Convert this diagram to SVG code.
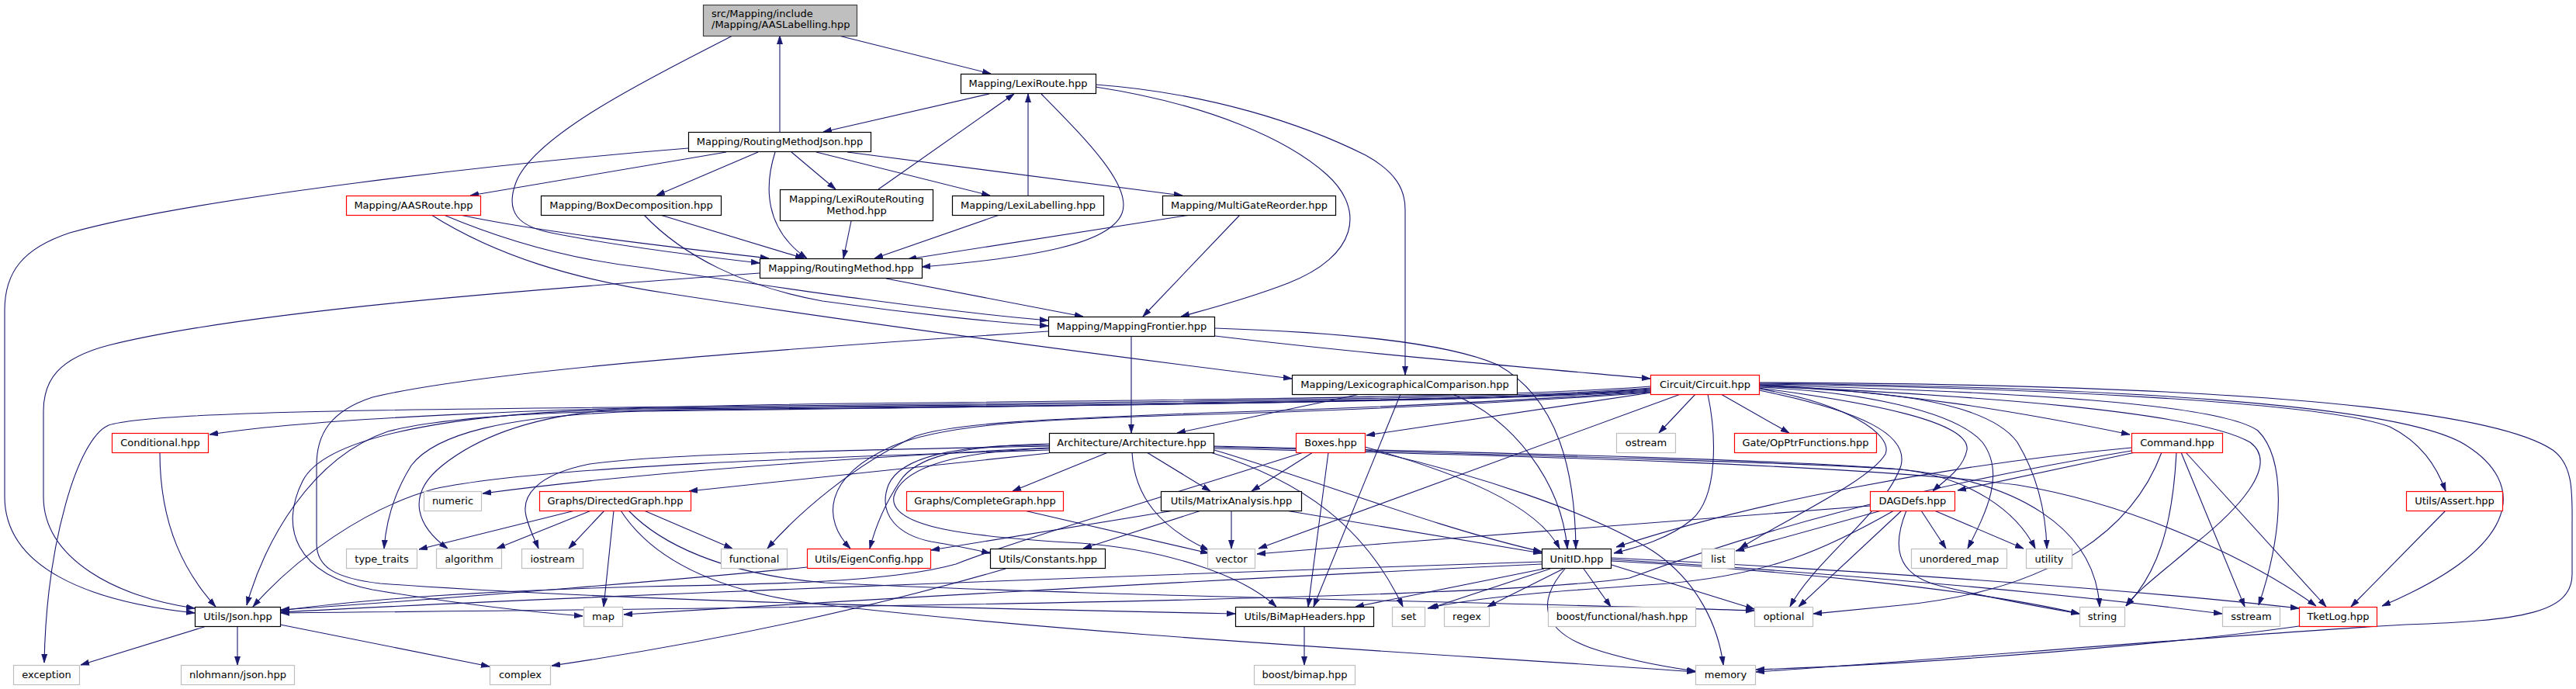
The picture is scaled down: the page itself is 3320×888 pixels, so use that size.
<svg xmlns="http://www.w3.org/2000/svg" width="3320" height="888" viewBox="0 0 3320 888">
<defs>
<marker id="a" viewBox="0 0 11 8" markerWidth="11" markerHeight="8" refX="11" refY="4" orient="auto" markerUnits="userSpaceOnUse"><path d="M0,0.5 L11,4 L0,7.5 z" fill="#191970" stroke="#191970" stroke-width="0.8"/></marker>
<style>
.e{fill:none;stroke:#191970;stroke-width:1.1;marker-end:url(#a)}
.n{fill:#ffffff;stroke:#000000;stroke-width:1.2}
.r{fill:#ffffff;stroke:#ff0000;stroke-width:1.2}
.g{fill:#ffffff;stroke:#bfbfbf;stroke-width:1.2}
.root{fill:#bfbfbf;stroke:#404040;stroke-width:1.2}
text{font-family:"DejaVu Sans","Liberation Sans",sans-serif;font-size:13px;fill:#000000;text-anchor:middle}
text.l{text-anchor:start}
</style>
</defs>
<rect width="3320" height="888" fill="#ffffff"/>
<g id="connectors">
<path class="e" d="M1081,46 L1277,95"/>
<path class="e" d="M944,46 C860,90 690,170 665,235 C650,275 670,292 710,300 C800,318 900,330 979,339"/>
<path class="e" d="M1005,170 L1005,46"/>
<path class="e" d="M887,191 C650,210 250,255 90,300 C30,320 6,350 6,400 L6,640 C6,730 110,775 251,790"/>
<path class="e" d="M936,196 L606,252"/>
<path class="e" d="M977,196 L846,252"/>
<path class="e" d="M999,196 C985,240 985,295 1040,333"/>
<path class="e" d="M1020,196 L1077,244"/>
<path class="e" d="M1052,196 L1276,252"/>
<path class="e" d="M1092,196 L1524,252"/>
<path class="e" d="M1275,121 L1061,170"/>
<path class="e" d="M1342,121 C1400,180 1460,240 1446,275 C1430,315 1330,332 1188,344"/>
<path class="e" d="M1412,112 C1560,135 1660,180 1710,225 C1760,270 1750,330 1660,365 C1600,388 1550,400 1522,408"/>
<path class="e" d="M1412,109 C1560,120 1680,160 1760,200 C1800,222 1811,245 1811,270 L1811,483"/>
<path class="e" d="M1132,244 L1307,121"/>
<path class="e" d="M1097,285 L1087,333"/>
<path class="e" d="M1325,252 L1325,121"/>
<path class="e" d="M1288,277 L1127,333"/>
<path class="e" d="M1534,277 L1170,334"/>
<path class="e" d="M1598,277 L1473,408"/>
<path class="e" d="M593,277 C700,300 880,320 991,333"/>
<path class="e" d="M572,277 C650,310 740,335 830,345 C1000,370 1200,400 1351,413"/>
<path class="e" d="M556,277 C640,330 740,360 860,378 C1100,415 1400,455 1665,488"/>
<path class="e" d="M851,277 L1036,333"/>
<path class="e" d="M830,277 C880,330 960,370 1060,388 C1180,405 1290,416 1351,420"/>
<path class="e" d="M1142,359 L1396,408"/>
<path class="e" d="M979,352 C700,372 320,400 140,445 C75,462 56,490 56,530 L56,640 C56,720 150,770 251,784"/>
<path class="e" d="M1458,434 L1458,558"/>
<path class="e" d="M1566,433 C1750,455 1950,472 2127,488"/>
<path class="e" d="M1566,423 C1720,428 1860,440 1930,470 C2010,515 2030,610 2031,707"/>
<path class="e" d="M1351,427 C1000,450 620,478 480,512 C425,530 408,560 408,600 L408,700 C408,730 430,745 490,752 C800,775 1300,785 1592,791"/>
<path class="e" d="M1753,508 L1517,558"/>
<path class="e" d="M1872,508 C1950,540 2012,620 2020,707"/>
<path class="e" d="M1805,508 L1693,782"/>
<path class="e" d="M2127,498 C1950,512 1500,516 1100,520 C700,525 400,540 270,560"/>
<path class="e" d="M2127,500 C1950,514 1500,518 1100,522 C600,527 200,528 140,548 C100,565 60,700 57,854"/>
<path class="e" d="M2127,501 C1950,516 1500,522 1100,526 C800,528 600,530 500,556 C400,590 340,700 318,780"/>
<path class="e" d="M2127,502 C1900,518 1300,524 830,530 C650,535 560,560 530,600 C505,640 497,680 495,707"/>
<path class="e" d="M2127,503 C1900,519 1200,522 830,526 C700,530 620,560 570,600 C520,640 540,680 577,707"/>
<path class="e" d="M2127,504 C1900,520 1200,524 830,527 C600,530 420,560 390,620 C360,680 380,740 480,760 C600,780 700,790 751,794"/>
<path class="e" d="M2127,505 C1900,520 1700,528 1560,532 C1350,540 1230,545 1180,562 C1100,600 1030,660 989,707"/>
<path class="e" d="M2127,506 C1900,522 1700,530 1560,534 C1350,540 1220,545 1150,575 C1060,615 1060,670 1096,707"/>
<path class="e" d="M2128,506 L1761,561"/>
<path class="e" d="M2185,508 L2138,558"/>
<path class="e" d="M2218,508 L2306,558"/>
<path class="e" d="M2201,508 C2212,560 2215,640 2180,670 C2150,695 2110,705 2080,713"/>
<path class="e" d="M2166,508 L1622,707"/>
<path class="e" d="M2267,501 C2380,520 2440,560 2430,585 C2410,620 2300,670 2242,707"/>
<path class="e" d="M2267,503 C2400,530 2460,560 2450,600 C2430,660 2340,720 2307,782"/>
<path class="e" d="M2267,500 C2420,520 2540,545 2535,580 C2530,605 2505,620 2491,633"/>
<path class="e" d="M2267,499 C2400,505 2520,530 2555,570 C2585,610 2560,660 2536,707"/>
<path class="e" d="M2267,498 C2420,503 2560,515 2600,570 C2630,620 2637,670 2638,707"/>
<path class="e" d="M2267,496 C2450,505 2600,530 2745,560"/>
<path class="e" d="M2267,497 C2550,510 2830,530 2900,570 C2940,600 2880,660 2830,700 C2790,735 2755,760 2740,781"/>
<path class="e" d="M2267,496 C2600,505 2860,520 2910,555 C2945,590 2945,680 2911,780"/>
<path class="e" d="M2267,495 C2650,500 3000,520 3080,550 C3120,570 3140,600 3152,633"/>
<path class="e" d="M2267,494 C2700,498 3100,520 3180,575 C3250,620 3260,700 3070,781"/>
<path class="e" d="M2267,493 C2800,495 3200,520 3290,580 C3318,600 3315,640 3315,680 L3315,740 C3315,790 3250,800 3100,805 C2850,820 2500,850 2263,866"/>
<path class="e" d="M1428,583 L1305,633"/>
<path class="e" d="M1478,583 L1560,633"/>
<path class="e" d="M1459,583 C1462,640 1495,680 1558,709"/>
<path class="e" d="M1352,584 L888,633"/>
<path class="e" d="M1352,577 C1100,590 830,608 622,636"/>
<path class="e" d="M1352,575 C1100,580 850,585 760,598 C690,612 672,640 678,665 C683,685 690,697 694,707"/>
<path class="e" d="M1352,580 C1100,588 700,600 560,630 C470,655 380,720 326,782"/>
<path class="e" d="M1352,572 C1230,575 1180,590 1160,620 C1140,650 1128,680 1121,707"/>
<path class="e" d="M1352,574 C1230,572 1160,590 1145,625 C1130,665 1160,690 1200,698 C1230,703 1255,708 1276,713"/>
<path class="e" d="M1352,578 C1210,582 1160,610 1152,640 C1145,680 1250,692 1393,700 C1500,708 1600,740 1645,782"/>
<path class="e" d="M1565,580 C1700,620 1850,680 1987,711"/>
<path class="e" d="M1560,583 C1680,620 1760,680 1808,782"/>
<path class="e" d="M1565,576 C1900,585 2300,595 2450,605 C2600,620 2700,680 2706,782"/>
<path class="e" d="M1565,575 C1900,583 2300,592 2450,605 C2540,615 2600,660 2623,707"/>
<path class="e" d="M1565,578 C2000,588 2400,600 2600,625 C2750,650 2900,720 2985,781"/>
<path class="e" d="M1692,583 L1613,633"/>
<path class="e" d="M1712,583 L1686,782"/>
<path class="e" d="M1759,576 C1880,610 1980,650 2010,707"/>
<path class="e" d="M1759,579 C1900,610 2050,660 2130,710 C2190,750 2215,810 2221,857"/>
<path class="e" d="M1680,583 C1500,640 1300,700 1232,727 C1150,750 1000,753 830,756 C600,762 450,775 362,787"/>
<path class="e" d="M1587,658 L1587,707"/>
<path class="e" d="M1513,658 L1200,709"/>
<path class="e" d="M1548,658 L1396,707"/>
<path class="e" d="M1657,658 L1987,713"/>
<path class="e" d="M1320,658 L1558,713"/>
<path class="e" d="M741,658 L540,708"/>
<path class="e" d="M762,658 L640,707"/>
<path class="e" d="M779,658 L733,707"/>
<path class="e" d="M791,658 L778,782"/>
<path class="e" d="M830,658 L944,707"/>
<path class="e" d="M810,658 C850,700 930,740 1063,751 C1400,768 1900,775 2261,787"/>
<path class="e" d="M800,658 C840,720 920,760 1042,777 C1400,820 1900,845 2185,866"/>
<path class="e" d="M1990,733 L1747,782"/>
<path class="e" d="M1998,733 L1843,784"/>
<path class="e" d="M2015,733 L1917,782"/>
<path class="e" d="M2041,733 L2076,782"/>
<path class="e" d="M2077,728 L2261,785"/>
<path class="e" d="M2017,733 C1985,770 1980,810 2050,835 C2100,852 2150,860 2185,865"/>
<path class="e" d="M2077,723 C2300,735 2550,760 2680,791"/>
<path class="e" d="M2077,721 C2400,740 2700,770 2864,791"/>
<path class="e" d="M2077,719 C2400,735 2750,760 2963,784"/>
<path class="e" d="M1987,724 C1500,740 700,770 362,789"/>
<path class="e" d="M1987,727 C1500,750 1000,780 804,792"/>
<path class="e" d="M2410,652 C2200,670 1900,690 1620,714"/>
<path class="e" d="M2425,658 L2237,710"/>
<path class="e" d="M2441,658 C2350,710 2280,740 2150,752 C2000,762 1900,770 1840,784"/>
<path class="e" d="M2451,658 L2318,782"/>
<path class="e" d="M2476,658 L2508,707"/>
<path class="e" d="M2493,658 L2608,707"/>
<path class="e" d="M2457,658 C2440,700 2440,740 2500,755 C2570,772 2640,784 2680,791"/>
<path class="e" d="M2752,583 L2523,632"/>
<path class="e" d="M2747,577 C2500,600 2250,650 2083,705"/>
<path class="e" d="M2747,581 C2450,630 2250,690 2100,745 C1900,775 900,785 362,790"/>
<path class="e" d="M2786,583 C2750,680 2650,760 2450,780 C2400,785 2370,788 2337,791"/>
<path class="e" d="M2805,583 C2800,680 2780,740 2740,781"/>
<path class="e" d="M2811,583 L2893,782"/>
<path class="e" d="M2817,583 L2998,782"/>
<path class="e" d="M3152,658 L3030,782"/>
<path class="e" d="M2963,807 C2800,830 2500,855 2263,863"/>
<path class="e" d="M1040,731 C900,745 600,770 362,786"/>
<path class="e" d="M1296,733 C1100,790 900,830 711,858"/>
<path class="e" d="M206,583 C206,680 240,740 278,782"/>
<path class="e" d="M266,807 L104,857"/>
<path class="e" d="M306,807 L306,857"/>
<path class="e" d="M361,805 L631,859"/>
<path class="e" d="M1681,807 L1681,857"/>
</g>
<g id="node-root"><rect class="root" x="906.5" y="6.5" width="198" height="40"/><text class="l" x="917" y="21.5">src/Mapping/include</text><text class="l" x="917" y="36">/Mapping/AASLabelling.hpp</text></g>
<g id="node-lexiroute"><rect class="n" x="1238.5" y="95.5" width="174" height="25"/><text x="1325" y="112">Mapping/LexiRoute.hpp</text></g>
<g id="node-routingmethodjson"><rect class="n" x="887.5" y="170.5" width="235" height="25"/><text x="1005" y="187">Mapping/RoutingMethodJson.hpp</text></g>
<g id="node-aasroute"><rect class="r" x="446.5" y="252.5" width="173" height="25"/><text x="533" y="269">Mapping/AASRoute.hpp</text></g>
<g id="node-boxdecomposition"><rect class="n" x="697.5" y="252.5" width="232" height="25"/><text x="813.5" y="269">Mapping/BoxDecomposition.hpp</text></g>
<g id="node-lexirouteroutingmethod"><rect class="n" x="1005.5" y="244.5" width="197" height="40"/><text x="1104" y="261">Mapping/LexiRouteRouting</text><text x="1104" y="275.5">Method.hpp</text></g>
<g id="node-lexilabelling"><rect class="n" x="1227.5" y="252.5" width="195" height="25"/><text x="1325" y="269">Mapping/LexiLabelling.hpp</text></g>
<g id="node-multigatereorder"><rect class="n" x="1498.5" y="252.5" width="223" height="25"/><text x="1610" y="269">Mapping/MultiGateReorder.hpp</text></g>
<g id="node-routingmethod"><rect class="n" x="979.5" y="333.5" width="209" height="25"/><text x="1084" y="350">Mapping/RoutingMethod.hpp</text></g>
<g id="node-mappingfrontier"><rect class="n" x="1351.5" y="408.5" width="214" height="25"/><text x="1458.5" y="425">Mapping/MappingFrontier.hpp</text></g>
<g id="node-lexcomp"><rect class="n" x="1665.5" y="483.5" width="290" height="25"/><text x="1810.5" y="500">Mapping/LexicographicalComparison.hpp</text></g>
<g id="node-circuit"><rect class="r" x="2127.5" y="483.5" width="140" height="25"/><text x="2197.5" y="500">Circuit/Circuit.hpp</text></g>
<g id="node-conditional"><rect class="r" x="144.5" y="558.5" width="124" height="25"/><text x="206.5" y="575">Conditional.hpp</text></g>
<g id="node-architecture"><rect class="n" x="1352.5" y="558.5" width="212" height="25"/><text x="1458.5" y="575">Architecture/Architecture.hpp</text></g>
<g id="node-boxes"><rect class="r" x="1670.5" y="558.5" width="89" height="25"/><text x="1715" y="575">Boxes.hpp</text></g>
<g id="node-ostream"><rect class="g" x="2083.5" y="558.5" width="76" height="25"/><text x="2121.5" y="575">ostream</text></g>
<g id="node-opptrfunctions"><rect class="r" x="2235.5" y="558.5" width="183" height="25"/><text x="2327" y="575">Gate/OpPtrFunctions.hpp</text></g>
<g id="node-command"><rect class="r" x="2747.5" y="558.5" width="117" height="25"/><text x="2806" y="575">Command.hpp</text></g>
<g id="node-numeric"><rect class="g" x="546.5" y="633.5" width="74" height="25"/><text x="583.5" y="650">numeric</text></g>
<g id="node-directedgraph"><rect class="r" x="695.5" y="633.5" width="195" height="25"/><text x="793" y="650">Graphs/DirectedGraph.hpp</text></g>
<g id="node-completegraph"><rect class="r" x="1168.5" y="633.5" width="202" height="25"/><text x="1269.5" y="650">Graphs/CompleteGraph.hpp</text></g>
<g id="node-matrixanalysis"><rect class="n" x="1496.5" y="633.5" width="181" height="25"/><text x="1587" y="650">Utils/MatrixAnalysis.hpp</text></g>
<g id="node-dagdefs"><rect class="r" x="2410.5" y="633.5" width="109" height="25"/><text x="2465" y="650">DAGDefs.hpp</text></g>
<g id="node-assert"><rect class="r" x="3101.5" y="633.5" width="124" height="25"/><text x="3163.5" y="650">Utils/Assert.hpp</text></g>
<g id="node-type_traits"><rect class="g" x="446.5" y="707.5" width="91" height="25"/><text x="492" y="724.5">type_traits</text></g>
<g id="node-algorithm"><rect class="g" x="562.5" y="707.5" width="84" height="25"/><text x="604.5" y="724.5">algorithm</text></g>
<g id="node-iostream"><rect class="g" x="672.5" y="707.5" width="79" height="25"/><text x="712" y="724.5">iostream</text></g>
<g id="node-functional"><rect class="g" x="929.5" y="707.5" width="85" height="25"/><text x="972" y="724.5">functional</text></g>
<g id="node-eigenconfig"><rect class="r" x="1040.5" y="707.5" width="159" height="25"/><text x="1120" y="724.5">Utils/EigenConfig.hpp</text></g>
<g id="node-constants"><rect class="n" x="1276.5" y="707.5" width="148" height="25"/><text x="1350.5" y="724.5">Utils/Constants.hpp</text></g>
<g id="node-vector"><rect class="g" x="1556.5" y="707.5" width="61" height="25"/><text x="1587" y="724.5">vector</text></g>
<g id="node-unitid"><rect class="n" x="1987.5" y="707.5" width="89" height="25"/><text x="2032" y="724.5">UnitID.hpp</text></g>
<g id="node-list"><rect class="g" x="2193.5" y="707.5" width="42" height="25"/><text x="2214.5" y="724.5">list</text></g>
<g id="node-unordered_map"><rect class="g" x="2463.5" y="707.5" width="123" height="25"/><text x="2525" y="724.5">unordered_map</text></g>
<g id="node-utility"><rect class="g" x="2611.5" y="707.5" width="59" height="25"/><text x="2641" y="724.5">utility</text></g>
<g id="node-json"><rect class="n" x="251.5" y="782.5" width="110" height="25"/><text x="306.5" y="799">Utils/Json.hpp</text></g>
<g id="node-map"><rect class="g" x="752.5" y="782.5" width="50" height="25"/><text x="777.5" y="799">map</text></g>
<g id="node-bimapheaders"><rect class="n" x="1592.5" y="782.5" width="178" height="25"/><text x="1681.5" y="799">Utils/BiMapHeaders.hpp</text></g>
<g id="node-set"><rect class="g" x="1794.5" y="782.5" width="42" height="25"/><text x="1815.5" y="799">set</text></g>
<g id="node-regex"><rect class="g" x="1861.5" y="782.5" width="58" height="25"/><text x="1890.5" y="799">regex</text></g>
<g id="node-hash"><rect class="g" x="1995.5" y="782.5" width="190" height="25"/><text x="2090.5" y="799">boost/functional/hash.hpp</text></g>
<g id="node-optional"><rect class="g" x="2261.5" y="782.5" width="75" height="25"/><text x="2299" y="799">optional</text></g>
<g id="node-string"><rect class="g" x="2680.5" y="782.5" width="58" height="25"/><text x="2709.5" y="799">string</text></g>
<g id="node-sstream"><rect class="g" x="2864.5" y="782.5" width="74" height="25"/><text x="2901.5" y="799">sstream</text></g>
<g id="node-tketlog"><rect class="r" x="2963.5" y="782.5" width="100" height="25"/><text x="3013.5" y="799">TketLog.hpp</text></g>
<g id="node-exception"><rect class="g" x="17.5" y="857.5" width="85" height="25"/><text x="60" y="874">exception</text></g>
<g id="node-nlohmann"><rect class="g" x="233.5" y="857.5" width="146" height="25"/><text x="306.5" y="874">nlohmann/json.hpp</text></g>
<g id="node-complex"><rect class="g" x="631.5" y="857.5" width="78" height="25"/><text x="670.5" y="874">complex</text></g>
<g id="node-bimap"><rect class="g" x="1616.5" y="857.5" width="130" height="25"/><text x="1681.5" y="874">boost/bimap.hpp</text></g>
<g id="node-memory"><rect class="g" x="2185.5" y="857.5" width="77" height="25"/><text x="2224" y="874">memory</text></g>
</svg>
